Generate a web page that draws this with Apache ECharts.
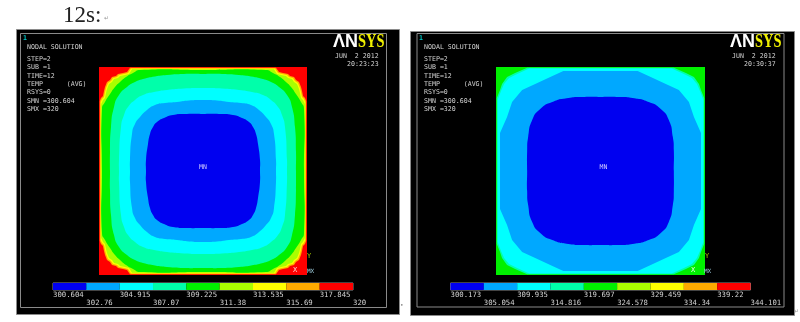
<!DOCTYPE html>
<html><head><meta charset="utf-8">
<style>html,body{margin:0;padding:0;background:#fff}#c{width:800px;height:322px;filter:blur(0.4px)}</style>
<script src="https://cdn.jsdelivr.net/npm/echarts@6/dist/echarts.min.js"></script>
</head><body><div id="c"></div>
<script>
// Contour level values (colour-bar tick labels)
const leftLevels = [300.604,302.76,304.915,307.07,309.225,311.38,313.535,315.69,317.845,320];
const rightLevels = [300.173,305.054,309.935,314.816,319.697,324.578,329.459,334.34,339.22,344.101];
const bandColors = ['#0000f0','#00a8ff','#00ffff','#00ffaa','#00f000','#aaff00','#ffff00','#ffaa00','#ff0000'];

// Quarter outlines of each contour band, in plate units (0..208).
// Each runs from the mid-left edge to the mid-top edge.
const leftOrange = [[0.8,104],[0.8,34],[2,31],[4,29],[5,24],[6,20],[8,15],[11,13],[13,10],[17,9],[19,7],[24,6],[28,5],[31,0.8],[104,0.8]];
const leftYellow = [[1.6,104],[1.6,35],[3,32],[5,30],[6,25],[7,21],[9,16],[12,14],[14,11],[18,10],[20,8],[25,7],[29,6],[32,1.6],[104,1.6]];
const leftYellowGreen = [[2.2,104],[2.2,37],[4,33],[6,31],[7,26],[8,22],[10,17],[13,15],[15,12],[19,11],[21,9],[26,8],[30,7],[33,2.2],[104,2.2]];
const leftGreen = [[3,104],[3,42],[6,35],[11,27],[16,20],[21,15],[27,10],[34,6],[41,3],[104,3]];
const leftTeal = [[11,104],[11,85],[12,60],[15,40],[20,28],[28,20],[36,15],[44,12],[56,9.5],[68,8],[85,7],[104,7]];
const leftCyan = [[20,104],[20,93],[22,60],[25,48],[29,40],[36,33],[44,28],[55,25],[68,23],[85,21.5],[104,21]];
const leftSky = [[31,104],[31,93],[33,67],[36,57],[41,50],[48,43],[56,38],[66,36],[78,35],[90,33.5],[104,33]];
const leftBlue = [[47,104],[47,93],[49,77],[51,67],[54,60],[58,55],[65,51],[74,48],[88,47],[104,47]];

const rightTeal = [[0.8,104],[0.8,31],[4,23],[6,17],[11,10],[19,6],[31,0.8],[104,0.8]];
const rightCyan = [[1.6,104],[1.6,33],[5,24],[8,17],[13,11],[21,7],[33,1.6],[104,1.6]];
const rightSky = [[4,104],[4,66],[11,50],[16,35],[26,23],[39,17],[54,10],[67,4],[104,4]];
const rightBlue = [[31,104],[31,84],[32,70],[36,53],[44,42],[56,35],[72,31],[88,30],[104,30]];

const leftBands = [
  {band:7,line:leftOrange},{band:6,line:leftYellow},{band:5,line:leftYellowGreen},{band:4,line:leftGreen,soft:1},
  {band:3,line:leftTeal,soft:1},{band:2,line:leftCyan,soft:1},{band:1,line:leftSky,soft:1},{band:0,line:leftBlue,soft:1}];
const rightBands = [
  {band:3,line:rightTeal},{band:2,line:rightCyan},{band:1,line:rightSky},{band:0,line:rightBlue,soft:1}];

const leftInfo = ['STEP=2','SUB =1','TIME=12','TEMP      (AVG)','RSYS=0','SMN =300.604','SMX =320'];
const rightInfo = leftInfo;
const leftStamp = ['JUN  2 2012','20:23:23'];
const rightStamp = ['JUN  2 2012','20:30:37'];

const PLATE = 208;
function ring(q){ // mirror the quarter outline about both mid lines
  const m = PLATE;
  const a = q.slice();
  const b = q.slice().reverse().map(p=>[m-p[0],p[1]]);
  const c = q.map(p=>[m-p[0],m-p[1]]);
  const d = q.slice().reverse().map(p=>[p[0],m-p[1]]);
  return a.concat(b,c,d).filter((p,i,all)=>{const n=all[(i+1)%all.length];return p[0]!==n[0]||p[1]!==n[1];});
}
function plateSeries(idx, bands, base){
  const items = [{poly:[[0,0],[PLATE,0],[PLATE,PLATE],[0,PLATE]],color:bandColors[base],soft:0}]
    .concat(bands.map(b=>({poly:ring(b.line),color:bandColors[b.band],soft:b.soft?0.6:0})));
  return {type:'custom',xAxisIndex:idx,yAxisIndex:idx,silent:true,animation:false,clip:false,
    data:items.map((_,i)=>[i]),
    renderItem:function(params,api){
      const it = items[api.value(0)];
      return {type:'polygon',shape:{points:it.poly.map(p=>api.coord(p)),smooth:it.soft},style:{fill:it.color,stroke:null}};
    }};
}
function barSeries(xi, yi, levels){
  return {type:'custom',xAxisIndex:xi,yAxisIndex:yi,silent:true,animation:false,
    data:bandColors.map((_,i)=>[levels[i],levels[i+1],i]),
    renderItem:function(params,api){
      const p0 = api.coord([api.value(0),1]), p1 = api.coord([api.value(1),0]);
      return {type:'rect',shape:{x:p0[0],y:p0[1],width:p1[0]-p0[0],height:p1[1]-p0[1]},
        style:{fill:bandColors[api.value(2)]}};
    }};
}
const mono = '"DejaVu Sans Mono","Liberation Mono",monospace';
const txtCol = '#d4d4d4';
function plateAxis(g){return {type:'value',gridIndex:g,min:0,max:PLATE,show:false};}
function plateAxisY(g){return {type:'value',gridIndex:g,min:0,max:PLATE,inverse:true,show:false};}
function barAxis(g,levels,pick,offset){
  return {type:'value',gridIndex:g,position:'bottom',min:levels[0],max:levels[9],offset:offset,
    axisLine:{show:false},splitLine:{show:false},
    axisTick:{show:false},
    axisLabel:{show:true,customValues:levels.filter((_,i)=>i%2===pick),formatter:v=>String(v),
      color:txtCol,fontFamily:mono,fontSize:7.3,align:'left',margin:2,hideOverlap:false,showMinLabel:true,showMaxLabel:true}};
}
function t(x,y,text,opt){
  return {type:'text',x:x,y:y,z:50,silent:true,style:Object.assign({text:text,fill:txtCol,font:'6.6px '+mono,textVerticalAlign:'middle'},opt||{})};
}
function rect(x,y,w,h,fill,stroke,z){
  return {type:'rect',silent:true,z:z,shape:{x:x,y:y,width:w,height:h},style:{fill:fill,stroke:stroke,lineWidth:1}};
}
function panelText(x0,info,stamp,logoX,stampX,timeX,oneX){
  const out=[t(oneX,38,'1',{fill:'#00c8c8',font:'bold 6.6px '+mono}),t(x0,47,'NODAL SOLUTION')];
  const ys=[59,67.5,75.8,84.3,92.5,101,109.5];
  info.forEach((s,i)=>out.push(t(x0,ys[i],s)));
  out.push(t(stampX,56,stamp[0]),t(timeX,64.5,stamp[1]));
  out.push(t(logoX,42.5,'ΛN',{fill:'#fff',font:'bold 18px "Liberation Sans"'}));
  const sys=t(logoX+25,42.5,'SYS',{fill:'#f0f000',font:'bold 18px "Liberation Serif"'});
  sys.scaleX=0.8;
  out.push(sys);
  return out;
}
const chart = echarts.init(document.getElementById('c'),null,{renderer:'canvas'});
chart.setOption({
  animation:false,backgroundColor:'#fff',
  grid:[
    {left:99,top:67,width:208,height:208,show:false},
    {left:496,top:67,width:209,height:208,show:false},
    {left:53,top:283,width:300,height:7,show:true,borderColor:'#888',borderWidth:1,backgroundColor:'transparent'},
    {left:450.5,top:283,width:300,height:7,show:true,borderColor:'#888',borderWidth:1,backgroundColor:'transparent'}
  ],
  xAxis:[plateAxis(0),plateAxis(1),
    barAxis(2,leftLevels,0,0),barAxis(2,leftLevels,1,8),
    barAxis(3,rightLevels,0,0),barAxis(3,rightLevels,1,8)],
  yAxis:[plateAxisY(0),plateAxisY(1),
    {type:'value',gridIndex:2,min:0,max:1,show:false},
    {type:'value',gridIndex:3,min:0,max:1,show:false}],
  series:[plateSeries(0,leftBands,8),plateSeries(1,rightBands,4),
    barSeries(2,2,leftLevels),barSeries(4,3,rightLevels)],
  graphic:{elements:[
    rect(16.5,29.5,383,285,'#000','#8a8a8a',-10),
    rect(20.5,33.5,366,274,'#000','#8a8a8a',-9),
    rect(410.5,31.5,384,284,'#000','#8a8a8a',-10),
    rect(417,33.5,367,273.5,'#000','#8a8a8a',-9),
    {type:'text',x:63,y:4,silent:true,z:50,style:{text:'12s:',fill:'#222',font:'23px "Liberation Serif"'}},
    {type:'text',x:104,y:15,silent:true,z:50,style:{text:'↵',fill:'#999',font:'6px "DejaVu Sans"'}},
    {type:'text',x:794,y:308,silent:true,z:50,style:{text:'↵',fill:'#999',font:'6px "DejaVu Sans"'}},
    {type:'text',x:400,y:302,silent:true,z:50,style:{text:'•',fill:'#888',font:'6px "DejaVu Sans"'}}
  ].concat(
    panelText(27,leftInfo,leftStamp,333,335,347,23),
    panelText(424,rightInfo,rightStamp,730,732,744,419),
    [t(199,167,'MN',{fill:'#d8d0ff',font:'6.5px '+mono}),
     t(599.5,167,'MN',{fill:'#d8d0ff',font:'6.5px '+mono}),
     t(293,270,'X',{fill:'#ffd0d0',font:'7px '+mono}),
     t(691,270,'X',{fill:'#e0ffe0',font:'7px '+mono}),
     t(307,256,'Y',{fill:'#a0c000',font:'7px '+mono}),
     t(705,256,'Y',{fill:'#a0c000',font:'7px '+mono}),
     t(307,271,'MX',{fill:'#a0d0e0',font:'6px '+mono}),
     t(704,271,'MX',{fill:'#a0d0e0',font:'6px '+mono})]
  )}
});
</script></body></html>
